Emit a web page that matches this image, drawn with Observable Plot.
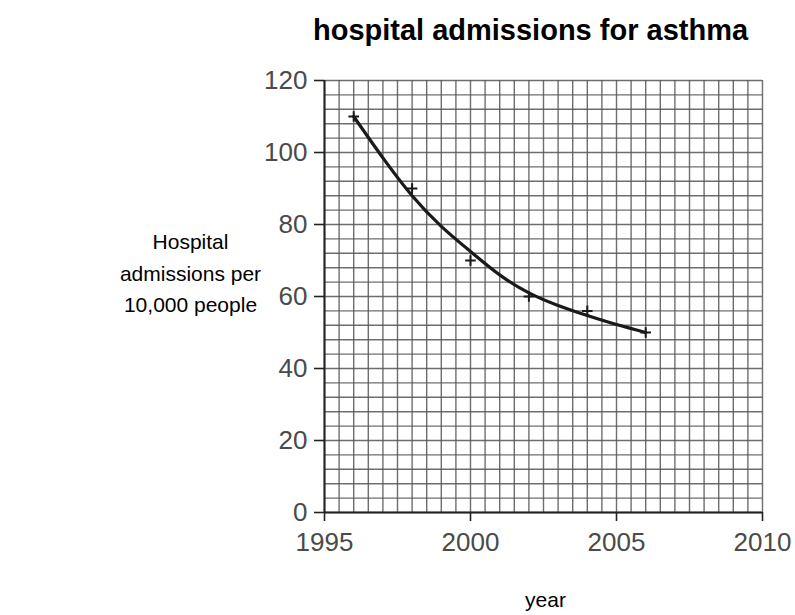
<!DOCTYPE html>
<html>
<head>
<meta charset="utf-8">
<script src="https://cdn.jsdelivr.net/npm/d3@7"></script>
<script src="https://cdn.jsdelivr.net/npm/@observablehq/plot@0.6"></script>
<style>
  html, body { margin: 0; padding: 0; background: #fff; }
  #chart svg { display: block; font-family: "Liberation Sans", Arial, Helvetica, sans-serif; }
</style>
</head>
<body>
<div id="chart"></div>
<script>
// Observed data points
const years = [1996, 1998, 2000, 2002, 2004, 2006];
const admissions = [110, 90, 70, 60, 56, 50];

// Hand-drawn best-fit curve
const curveYears = [1996, 1997, 1998, 1999, 2000, 2001, 2002, 2003, 2004, 2005, 2006];
const curveValues = [110, 98.5, 88, 79.5, 72.5, 66, 61, 57.5, 54.7, 52.2, 50];

// Axis ticks
const xTicks = [1995, 2000, 2005, 2010];
const yTicks = [0, 20, 40, 60, 80, 100, 120];
const xGridStep = 0.5;
const yGridStep = 4;

const titleText = "hospital admissions for asthma";
const yLabelText = "Hospital\nadmissions per\n10,000 people";
const xLabelText = "year";

const points = years.map((y, i) => ({year: y, value: admissions[i]}));
const curve = curveYears.map((y, i) => ({year: y, value: curveValues[i]}));

const xGrid = d3.range(1995, 2010 + 1e-9, xGridStep);
const yGrid = d3.range(0, 120 + 1e-9, yGridStep);

const chart = Plot.plot({
  width: 795,
  height: 615,
  marginLeft: 324,
  marginRight: 33,
  marginTop: 80,
  marginBottom: 103,
  style: {fontFamily: '"Liberation Sans", Arial, Helvetica, sans-serif', background: "#fff"},
  x: {domain: [1995, 2010]},
  y: {domain: [0, 120]},
  marks: [
    Plot.gridX(xGrid, {stroke: "#555", strokeOpacity: 0.85, strokeWidth: 1.4}),
    Plot.gridY(yGrid, {stroke: "#555", strokeOpacity: 0.85, strokeWidth: 1.4}),
    Plot.axisX(xTicks, {tickFormat: d3.format("d"), tickSize: 9, tickPadding: 11, fontSize: 26, color: "#4a4a4a", stroke: "#222", strokeWidth: 1.6, label: null}),
    Plot.axisY(yTicks, {tickSize: 10, tickPadding: 7, fontSize: 26, color: "#4a4a4a", stroke: "#222", strokeWidth: 1.6, label: null}),
    Plot.ruleX([1995], {stroke: "#222", strokeWidth: 2}),
    Plot.ruleY([0], {stroke: "#222", strokeWidth: 2}),
    Plot.line(curve, {x: "year", y: "value", curve: "natural", stroke: "#1a1a1a", strokeWidth: 3.2}),
    Plot.dot(points, {x: "year", y: "value", symbol: "plus", r: 3.5, stroke: "#1a1a1a", strokeWidth: 2}),
    Plot.text([titleText], {frameAnchor: "top", dx: -13, dy: -50, lineAnchor: "middle", fontSize: 29, fontWeight: "bold", fill: "#000"}),
    Plot.text([yLabelText], {frameAnchor: "left", dx: -134, dy: -26, textAnchor: "middle", lineAnchor: "middle", lineHeight: 1.5, fontSize: 21, fill: "#000"}),
    Plot.text([xLabelText], {frameAnchor: "bottom", dx: 2, dy: 88, lineAnchor: "middle", fontSize: 21, fill: "#000"})
  ]
});
document.getElementById("chart").appendChild(chart);
</script>
</body>
</html>
